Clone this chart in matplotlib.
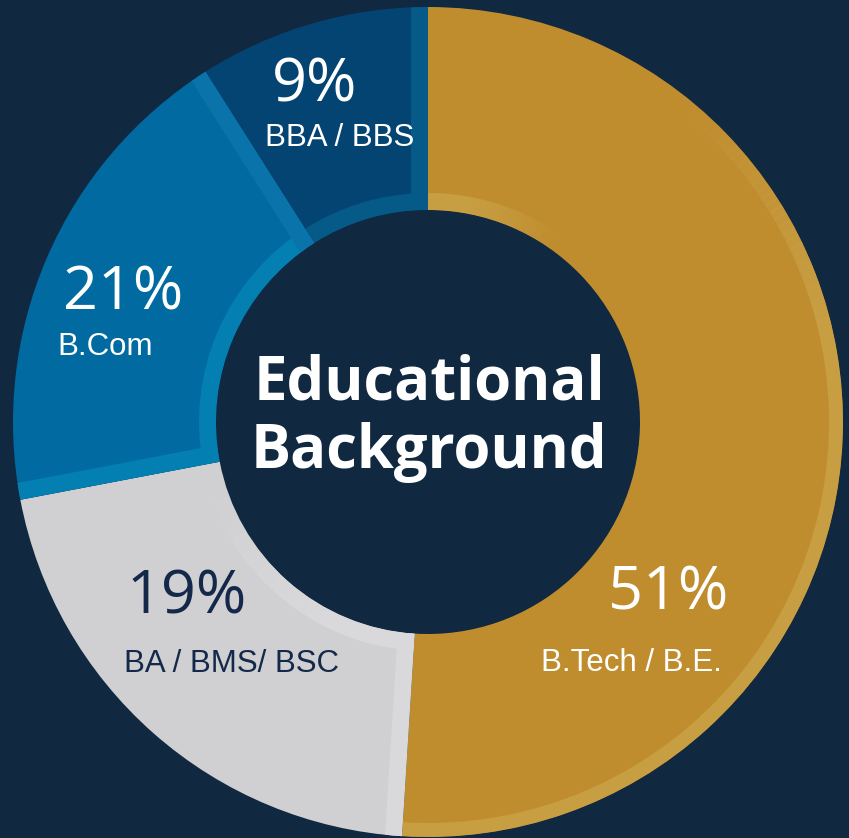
import numpy as np
import matplotlib
matplotlib.use("Agg")
import matplotlib.pyplot as plt
from matplotlib.patches import Wedge, Polygon

# ---- data ----
categories = ["B.Tech / B.E.", "BA / BMS/ BSC", "B.Com", "BBA / BBS"]
shares = [51, 21, 19, 9]            # arc sizes as drawn in the picture
pct_labels = ["51%", "19%", "21%", "9%"]
title_lines = ["Educational", "Background"]

# ---- style ----
BG = "#112841"
colors = ["#C08D2E", "#D0D0D3", "#006AA1", "#044473"]
bevel = ["#C89E43", "#D9D9DC", "#0380B1", "#065A88"]
text_colors = ["white", "#14294A", "white", "white"]

W, H = 849, 838
fig = plt.figure(figsize=(W / 100, H / 100), dpi=100, facecolor=BG)
ax = fig.add_axes([0, 0, 1, 1])
ax.set_facecolor(BG)

cx, cy = 428, H - 422
R, r = 415, 212
wedges, _ = ax.pie(shares, colors=colors, startangle=90, counterclock=False,
                   radius=R, center=(cx, cy),
                   wedgeprops=dict(width=R - r, linewidth=0))
ax.set_xlim(0, W)
ax.set_ylim(0, H)
ax.set_aspect("equal")
ax.axis("off")

bw = 17
c = np.array([cx, cy], dtype=float)


def faded_band(w, rad, width, a_solid, a_zero, color, steps=30):
    """band of given width ending at radius rad, fully opaque up to a_solid,
    fading to zero at a_zero"""
    t1, t2 = w.theta1, w.theta2
    lo, hi = sorted([a_solid, t1 if a_zero > a_solid else t2])
    lo, hi = max(lo, t1), min(hi, t2)
    if hi > lo:
        p = Wedge((cx, cy), rad, lo, hi, width=width, facecolor=color, linewidth=0)
        ax.add_patch(p)
        p.set_clip_path(w)
    edges = np.linspace(a_solid, a_zero, steps + 1)
    for k in range(steps):
        a, b = sorted([edges[k], edges[k + 1]])
        alpha = 1 - (k + 0.5) / steps
        p = Wedge((cx, cy), rad, a, b + 0.2, width=width, facecolor=color,
                  alpha=alpha, linewidth=0)
        ax.add_patch(p)
        p.set_clip_path(w)


# per-segment radial strips: colour on theta1 edge, colour on theta2 edge
strip_cfg = [(None, None), (None, "#D9D9DC"), ("#0A74AA", "#0380B1"), ("#065A88", None)]
for i, (w, bc, cfg) in enumerate(zip(wedges, bevel, strip_cfg)):
    t1, t2 = w.theta1, w.theta2
    if i == 0:
        faded_band(w, r + bw, bw, 80, 55, bc)
    elif i == 1:
        faded_band(w, r + bw, bw, t2 - 25, t1 + 5, bc)
    else:
        ib = Wedge((cx, cy), r + bw, t1, t2, width=bw, facecolor=bc, linewidth=0)
        ax.add_patch(ib)
        ib.set_clip_path(w)
    for a, scol, sign in [(t1, cfg[0], 1), (t2, cfg[1], -1)]:
        if scol is None:
            continue
        ar = np.deg2rad(a)
        u = np.array([np.cos(ar), np.sin(ar)])
        n = sign * np.array([-np.sin(ar), np.cos(ar)])
        pts = [c + r * u, c + (R + 5) * u, c + (R + 5) * u + bw * n, c + r * u + bw * n]
        p = Polygon(pts, closed=True, facecolor=scol, linewidth=0)
        ax.add_patch(p)
        p.set_clip_path(w)

# gold outer bevel along lower right, fading in
faded_band(wedges[0], R, 14, 15, 50, bevel[0])

# ---- labels (pixel positions from the top-left) ----
pct_pos = [(608, 610), (127, 613), (63, 310), (272, 101)]
cat_pos = [(541, 671), (124, 672), (57, 355), (265, 146)]
for i in range(len(shares)):
    x, y = pct_pos[i]
    ax.text(x, H - y, pct_labels[i], color=text_colors[i], fontsize=44,
            family="Open Sans", ha="left", va="baseline")
    x, y = cat_pos[i]
    ax.text(x, H - y, categories[i], color=text_colors[i], fontsize=22.5,
            family="Liberation Sans", ha="left", va="baseline")

ax.text(cx + 1, H - 400, title_lines[0], color="white", fontsize=43, fontweight="bold",
        family="Open Sans", ha="center", va="baseline")
ax.text(cx + 1, H - 468, title_lines[1], color="white", fontsize=43, fontweight="bold",
        family="Open Sans", ha="center", va="baseline")

fig.savefig("out.png", dpi=100, facecolor=BG)
